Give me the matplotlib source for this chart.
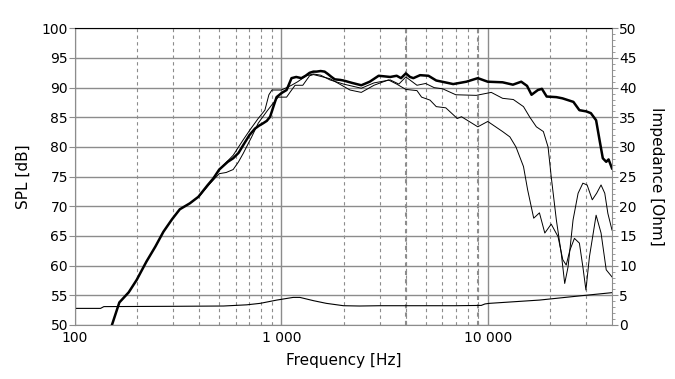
import numpy as np
import matplotlib.pyplot as plt
from matplotlib.ticker import FixedLocator, FuncFormatter, MultipleLocator

# on-axis SPL (thick)
f_axis = [151, 164, 182, 199, 222, 245, 268, 295, 322, 360, 396, 440, 468, 500, 550,
          584, 620, 653, 700, 745, 780, 816, 850, 882, 915, 948, 1003, 1060, 1120, 1180,
          1250, 1310, 1370, 1430, 1480, 1550, 1620, 1680, 1750, 1815, 1930, 2000, 2200,
          2440, 2680, 2960, 3370, 3620, 3800, 4010, 4200, 4360, 4700, 5160, 5630, 6200,
          6800, 7880, 8950, 10000, 11800, 13240, 14530, 15500, 16300, 17500, 18300,
          19300, 21500, 23000, 26000, 27800, 30000, 31600, 33500, 34800, 36100, 37500,
          38500, 40000]
spl_axis = [50.0, 53.8, 55.5, 57.6, 60.7, 63.2, 65.7, 67.8, 69.5, 70.5, 71.6, 73.6, 74.7,
            76.2, 77.5, 78.1, 79.0, 80.3, 82.0, 83.1, 83.6, 84.0, 84.4, 85.1, 86.8, 88.4,
            89.1, 89.6, 91.6, 91.8, 91.6, 92.0, 92.5, 92.7, 92.7, 92.8, 92.7, 92.3, 91.8,
            91.4, 91.3, 91.2, 90.8, 90.4, 91.0, 92.0, 91.8, 92.0, 91.6, 92.4, 91.8, 91.6,
            92.1, 92.0, 91.2, 90.9, 90.6, 91.0, 91.6, 91.0, 90.9, 90.5, 91.0, 90.3, 88.8,
            89.6, 89.8, 88.5, 88.4, 88.2, 87.6, 86.2, 86.0, 85.7, 84.5, 81.2, 78.1, 77.5,
            77.9, 76.4]

# off-axis 1 (thin)
f_off1 = [400, 468, 500, 584, 653, 705, 772, 832, 870, 900, 1000, 1060, 1120, 1200, 1320,
          1430, 1550, 1720, 2000, 2440, 2810, 3370, 3710, 4010, 4540, 5000, 5500, 6050,
          7000, 8800, 10400, 11800, 13300, 14900, 16000, 17200, 18600, 19600, 20300,
          21500, 22700, 23600, 24500, 25900, 27400, 28900, 30300, 32100, 33700, 35400,
          36900, 38200, 40000]
spl_off1 = [71.7, 74.7, 76.2, 78.6, 81.2, 82.9, 84.8, 86.2, 88.8, 89.6, 89.6, 90.0, 90.4,
            91.0, 92.0, 92.3, 92.1, 91.3, 90.6, 89.9, 90.8, 91.3, 90.6, 91.8, 90.4, 90.7,
            90.0, 89.8, 88.8, 88.7, 89.2, 88.2, 88.0, 86.8, 85.0, 83.4, 82.6, 80.0, 75.0,
            67.7, 62.1, 57.0, 59.8, 67.7, 72.2, 73.9, 73.6, 71.1, 72.2, 73.6, 72.2, 68.8,
            66.0]

# off-axis 2 (thin)
f_off2 = [400, 450, 500, 540, 584, 620, 653, 718, 772, 850, 899, 966, 1060, 1100, 1165,
          1270, 1370, 1430, 1550, 1720, 1960, 2150, 2440, 2810, 3300, 3620, 4010, 4540,
          4780, 5250, 5630, 6260, 7120, 7460, 8950, 10000, 11800, 12800, 13700, 14900,
          15600, 16700, 17800, 18900, 20300, 21900, 23100, 24000, 25000, 26300, 27800,
          28900, 29900, 31100, 33500, 35400, 37500, 40000]
spl_off2 = [71.7, 73.8, 75.5, 75.7, 76.2, 77.5, 78.9, 81.7, 84.0, 86.0, 87.1, 88.4, 88.4,
            89.2, 90.4, 90.4, 92.0, 92.2, 91.9, 91.5, 90.4, 89.6, 89.2, 90.4, 91.3, 90.6,
            89.7, 89.5, 88.4, 87.9, 86.8, 86.6, 84.8, 85.1, 83.4, 84.3, 82.6, 81.7, 80.0,
            76.7, 72.8, 68.0, 68.9, 65.5, 67.0, 64.9, 61.0, 60.1, 62.6, 64.6, 63.8, 59.8,
            55.9, 61.5, 68.5, 65.5, 59.3, 58.1]

# impedance [Ohm]
f_imp = [100, 133, 138, 300, 524, 680, 790, 950, 1140, 1230, 1430, 1650, 2000, 2390,
         3000, 7000, 9300, 9700, 10200, 17800, 27800, 40000]
z_imp = [2.8, 2.8, 3.1, 3.15, 3.2, 3.4, 3.65, 4.2, 4.65, 4.65, 4.1, 3.65, 3.25, 3.2,
         3.25, 3.25, 3.3, 3.55, 3.65, 4.2, 4.9, 5.45]

grid_c = '#8c8c8c'

fig = plt.figure(figsize=(6.75, 3.79), dpi=100)
ax = fig.add_axes([75/675, 1-325/379, (612-75)/675, (325-28.3)/379])

ax.set_xscale('log')
ax.set_xlim(100, 40000)
ax.set_ylim(50, 100)

ax.xaxis.set_major_locator(FixedLocator([100, 1000, 10000]))
ax.xaxis.set_major_formatter(FuncFormatter(lambda v, p: f'{int(v):,}'.replace(',', ' ')))
minors = [m * d for d in (100, 1000, 10000) for m in range(2, 10) if m * d < 40000]
ax.xaxis.set_minor_locator(FixedLocator(minors))
ax.xaxis.set_minor_formatter(FuncFormatter(lambda v, p: ''))
ax.yaxis.set_major_locator(MultipleLocator(5))

ax.grid(True, which='major', axis='both', color=grid_c, lw=1.0, ls='-')
ax.grid(True, which='minor', axis='x', color=grid_c, lw=0.8, ls=(0, (3, 3)))
# these two come out heavier in the original
for fx in (4000, 9000):
    ax.axvline(fx, color=grid_c, lw=1.5, ls=(0, (2, 2)), zorder=0.5)
ax.set_axisbelow(True)

ax.plot(f_imp, np.array(z_imp) + 50, color='black', lw=0.8)
ax.plot(f_off2, spl_off2, color='black', lw=0.7)
ax.plot(f_off1, spl_off1, color='black', lw=0.7)
ax.plot(f_axis, spl_axis, color='black', lw=1.8)

ax.tick_params(axis='x', which='both', length=0, labelsize=10, pad=4)
ax.tick_params(axis='y', which='major', length=4, color=grid_c, labelsize=10, pad=1)
for s in ('left', 'bottom', 'right'):
    ax.spines[s].set_color(grid_c)
ax.spines['top'].set_color('black')

ax.set_xlabel('Frequency [Hz]', fontsize=11, labelpad=6)
ax.set_ylabel('SPL [dB]', fontsize=11, labelpad=8)

ax2 = ax.twinx()
ax2.set_ylim(0, 50)
ax2.yaxis.set_major_locator(MultipleLocator(5))
ax2.yaxis.set_minor_locator(MultipleLocator(1))
ax2.tick_params(axis='y', which='major', length=4, color=grid_c, labelsize=10, pad=1)
ax2.tick_params(axis='y', which='minor', length=2, color=grid_c)
for s in ax2.spines.values():
    s.set_visible(False)
ax2.set_ylabel('Impedance [Ohm]', fontsize=11, rotation=270, labelpad=20)

fig.savefig('out.png', dpi=100)
